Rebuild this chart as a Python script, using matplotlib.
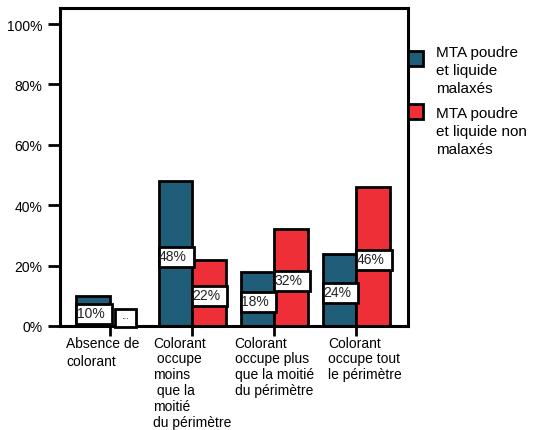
import matplotlib
matplotlib.use("Agg")
import matplotlib.pyplot as plt
from matplotlib.patches import Rectangle
from matplotlib.ticker import FuncFormatter

plt.rcParams['font.family'] = ['Liberation Sans', 'DejaVu Sans']

# data (percent)
categories = [
    "Absence de\ncolorant",
    "Colorant\n occupe\nmoins\n que la\nmoitié\ndu périmètre",
    "Colorant\noccupe plus\nque la moitié\ndu périmètre",
    "Colorant\noccupe tout\nle périmètre",
]
series_names = ["MTA poudre\net liquide\nmalaxés", "MTA poudre\net liquide non\nmalaxés"]
malaxes = [10, 48, 18, 24]
non_malaxes = [0, 22, 32, 46]
yticks = [0, 20, 40, 60, 80, 100]

BLUE = "#1f5d78"
RED = "#ee2f38"

fig = plt.figure(figsize=(5.33, 4.31), dpi=100)
ax = fig.add_axes([0.1126, 0.2413, 0.7655 - 0.1126, 0.979 - 0.2413])

w = 0.41
xs = list(range(len(categories)))
lw = 2.0

ax.bar([x - w / 2 for x in xs], malaxes, w, color=BLUE, edgecolor="black", linewidth=lw, zorder=2)
ax.bar([x + w / 2 for x in xs], non_malaxes, w, color=RED, edgecolor="black", linewidth=lw, zorder=2)

# value labels in white boxes at bar middle
box_h = 6.6
for vals, side in ((malaxes, -1), (non_malaxes, 0)):
    for x, v in zip(xs, vals):
        left = x + side * w
        if v == 0:
            bw = 0.26
            cx = left + w / 2 - 0.02
            ax.add_patch(Rectangle((cx - bw / 2, -0.3), bw, 6.0, facecolor="white",
                                   edgecolor="black", linewidth=lw, zorder=3, clip_on=False))
            ax.text(cx, 5.2, "...", ha="center", va="top", fontsize=7, zorder=4, clip_on=False)
            continue
        mid = v / 2 - 1.0
        ax.add_patch(Rectangle((left, mid - box_h / 2), w + 0.02, box_h, facecolor="white",
                               edgecolor="black", linewidth=lw, zorder=3))
        ax.text(left + 0.005, mid + 0.3, f"{v}%", ha="left", va="center", fontsize=10,
                color="#222222", zorder=4)

ax.set_xlim(-0.61, 3.63)
ax.set_ylim(0, 105.3)
ax.set_yticks(yticks)
ax.yaxis.set_major_formatter(FuncFormatter(lambda v, p: f"{v:.0f}%"))
ax.tick_params(axis="y", length=8.6, width=2, pad=4, labelsize=10, colors="black")
ax.set_xticks(xs)
ax.set_xticklabels([])
ax.tick_params(axis="x", length=7, width=2)
for s in ax.spines.values():
    s.set_linewidth(2.2)

# category labels
offsets = [-5, 0, 0, 6.5]
spacings = [1.37, 1.16, 1.16, 1.16]
for x, lab, dx, ls in zip(xs, categories, offsets, spacings):
    ax.annotate(lab, xy=(x, 0), xycoords=("data", "axes fraction"), xytext=(dx, -7),
                textcoords="offset points", ha="center", va="top", multialignment="left",
                fontsize=10, linespacing=ls)

# legend drawn by hand
for (ytop, ytext, name, col) in ((52, 46, series_names[0], BLUE), (105, 107, series_names[1], RED)):
    fig.add_artist(Rectangle((408 / 533, 1 - (ytop + 15) / 431), 15 / 533, 15 / 431,
                             transform=fig.transFigure, facecolor=col, edgecolor="black",
                             linewidth=lw))
    fig.text(436 / 533, 1 - ytext / 431, name, ha="left", va="top", fontsize=11,
             linespacing=1.38)

fig.savefig("out.png", dpi=100)
